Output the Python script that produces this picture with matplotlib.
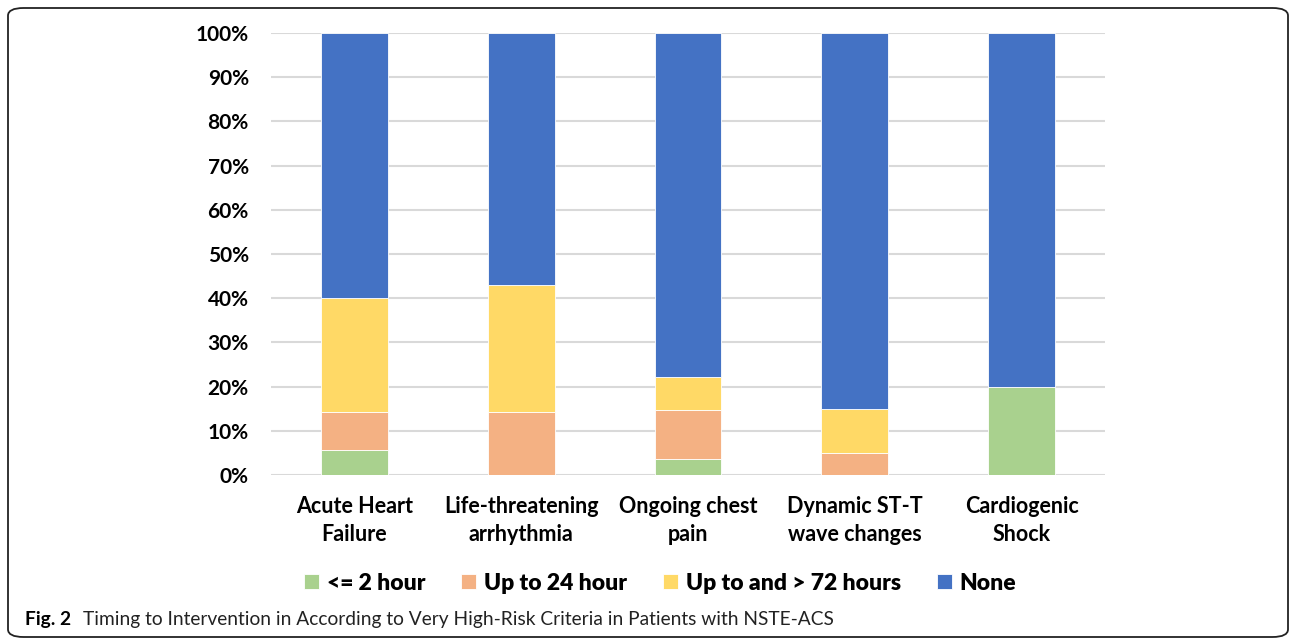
"""
Stacked percentage bars: timing to intervention by very high-risk criterion.
"""

import matplotlib.pyplot as plt
import numpy as np
from matplotlib.patches import FancyBboxPatch
from matplotlib.ticker import PercentFormatter

categories = [
    "Acute Heart\nFailure",
    "Life-threatening\narrhythmia",
    "Ongoing chest\npain",
    "Dynamic ST-T\nwave changes",
    "Cardiogenic\nShock",
]
le_2h = [5.7, 0.0, 3.7, 0.0, 20.0]
up_to_24h = [8.6, 14.3, 11.1, 5.0, 0.0]
up_to_72h = [25.7, 28.6, 7.4, 10.0, 0.0]
none = [60.0, 57.1, 77.8, 85.0, 80.0]

series_names = ["<= 2 hour", "Up to 24 hour", "Up to and > 72 hours", "None"]
colors = ["#a9d18e", "#f4b183", "#ffd966", "#4472c4"]

plt.rcParams["font.family"] = ["Lato", "DejaVu Sans"]

fig = plt.figure(figsize=(12.92, 6.39), dpi=100)
ax = fig.add_axes([0.2098, 0.2567, 0.6455, 0.6917])

x = np.arange(len(categories))
bottom = np.zeros(len(categories))
handles = []
for vals, name, col in zip([le_2h, up_to_24h, up_to_72h, none], series_names, colors):
    vals = np.array(vals)
    h = ax.bar(x, vals, 0.40, bottom=bottom, color=col, edgecolor="white",
               linewidth=0.6, label=name, zorder=3)
    handles.append(h)
    bottom += vals

ax.set_xlim(-0.5, len(categories) - 0.5)
ax.set_ylim(0, 100)
ax.set_yticks(np.arange(0, 101, 10))
ax.yaxis.set_major_formatter(PercentFormatter(decimals=0))
ax.grid(axis="y", color="#d9d9d9", linewidth=1.5, zorder=0)
for s in ax.spines.values():
    s.set_visible(False)
ax.tick_params(length=0)
ax.tick_params(axis="y", pad=16)
ax.tick_params(axis="x", pad=15)
ax.set_xticks(x)
ax.set_xticklabels(categories, fontsize=15.5, fontweight="bold", linespacing=1.45)
for lbl in ax.get_yticklabels():
    lbl.set_fontsize(15)
    lbl.set_fontweight("bold")

fig.legend(handles=handles, labels=series_names, loc="center",
           bbox_to_anchor=(0.511, 1 - 583 / 639), ncol=4, frameon=False,
           prop={"size": 16.5, "weight": "heavy"}, handlelength=0.66,
           handleheight=0.66, handletextpad=0.35, columnspacing=1.55)

fig.text(25 / 1292, 1 - 620 / 639, "Fig. 2", fontsize=13.8, fontweight="bold",
         va="center", ha="left")
fig.text(83 / 1292, 1 - 620 / 639,
         "Timing to Intervention in According to Very High-Risk Criteria in Patients with NSTE-ACS",
         fontsize=13.8, va="center", ha="left", color="#222222")

frame = FancyBboxPatch((8 / 1292, 2 / 639), 1280 / 1292, 629 / 639,
                       boxstyle="round,pad=0,rounding_size=0.012",
                       transform=fig.transFigure, fill=False,
                       edgecolor="#222222", linewidth=1.3)
fig.patches.append(frame)

fig.savefig("out.png", dpi=100)
